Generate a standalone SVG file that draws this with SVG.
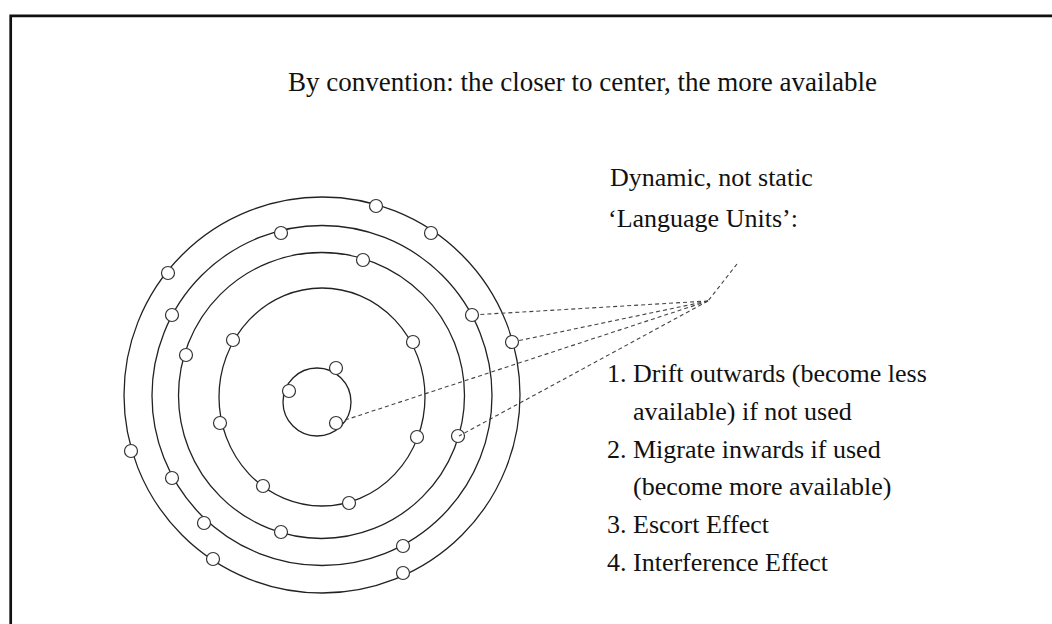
<svg xmlns="http://www.w3.org/2000/svg" width="1052" height="624" viewBox="0 0 1052 624">
  <style>
    .txt { font-family: "Liberation Serif", "Times New Roman", serif; fill: #111; }
    .title { font-size: 27px; }
    .body { font-size: 26px; }
    .ring { fill: none; stroke: #222; stroke-width: 1.3; }
    .unit { fill: #fff; stroke: #333; stroke-width: 1.2; }
    .link { fill: none; stroke: #444; stroke-width: 1.1; stroke-dasharray: 4 3; }
  </style>
  <rect width="1052" height="624" fill="#fff"/>

  <!-- frame: left and top edges only -->
  <path d="M10.7 624 V15.8 H1052" fill="none" stroke="#111" stroke-width="2.7"/>

  <text class="txt title" x="288" y="91">By convention: the closer to center, the more available</text>

  <!-- orbits, outermost first, each with its language units -->
  <g id="orbit-1">
    <circle class="ring" cx="322" cy="395" r="198"/>
    <circle class="unit" cx="376" cy="206" r="6.5"/>
    <circle class="unit" cx="431" cy="233" r="6.5"/>
    <circle class="unit" cx="168" cy="273" r="6.5"/>
    <circle class="unit" cx="512" cy="342" r="6.5"/>
    <circle class="unit" cx="131" cy="451" r="6.5"/>
    <circle class="unit" cx="213" cy="559" r="6.5"/>
    <circle class="unit" cx="403" cy="573" r="6.5"/>
  </g>
  <g id="orbit-2">
    <circle class="ring" cx="322" cy="395.5" r="170"/>
    <circle class="unit" cx="281" cy="233" r="6.5"/>
    <circle class="unit" cx="172" cy="315" r="6.5"/>
    <circle class="unit" cx="472" cy="315" r="6.5"/>
    <circle class="unit" cx="172" cy="478" r="6.5"/>
    <circle class="unit" cx="204" cy="523" r="6.5"/>
    <circle class="unit" cx="403" cy="546" r="6.5"/>
  </g>
  <g id="orbit-3">
    <circle class="ring" cx="321.5" cy="395.5" r="143"/>
    <circle class="unit" cx="363" cy="260" r="6.5"/>
    <circle class="unit" cx="186" cy="355" r="6.5"/>
    <circle class="unit" cx="458" cy="436" r="6.5"/>
    <circle class="unit" cx="281" cy="532" r="6.5"/>
  </g>
  <g id="orbit-4">
    <ellipse class="ring" cx="322" cy="397" rx="103" ry="109"/>
    <circle class="unit" cx="233" cy="340" r="6.5"/>
    <circle class="unit" cx="413" cy="342" r="6.5"/>
    <circle class="unit" cx="220" cy="423" r="6.5"/>
    <circle class="unit" cx="417" cy="437" r="6.5"/>
    <circle class="unit" cx="263" cy="486" r="6.5"/>
    <circle class="unit" cx="349" cy="503" r="6.5"/>
  </g>
  <g id="core">
    <circle class="ring" cx="317" cy="402" r="34"/>
    <circle class="unit" cx="289" cy="391" r="6.5"/>
    <circle class="unit" cx="336" cy="368" r="6.5"/>
    <circle class="unit" cx="336" cy="423" r="6.5"/>
  </g>

  <!-- dashed pointers from the label to sample units -->
  <g id="connectors">
    <line class="link" x1="737" y1="264" x2="708" y2="301"/>
    <line class="link" x1="708" y1="301" x2="478.5" y2="314.6"/>
    <line class="link" x1="708" y1="301" x2="518.4" y2="340.7"/>
    <line class="link" x1="708" y1="301" x2="342.2" y2="421"/>
    <line class="link" x1="708" y1="301" x2="459" y2="436"/>
  </g>

  <g id="label">
    <text class="txt body" x="610" y="186">Dynamic, not static</text>
    <text class="txt body" x="608" y="227">‘Language Units’:</text>
  </g>

  <g id="rules">
    <text class="txt body" x="607" y="382">1.</text>
    <text class="txt body" x="633" y="382">Drift outwards (become less</text>
    <text class="txt body" x="633" y="419.8">available) if not used</text>
    <text class="txt body" x="607" y="457.6">2.</text>
    <text class="txt body" x="633" y="457.6">Migrate inwards if used</text>
    <text class="txt body" x="633" y="495.4">(become more available)</text>
    <text class="txt body" x="607" y="533.2">3.</text>
    <text class="txt body" x="633" y="533.2">Escort Effect</text>
    <text class="txt body" x="607" y="571">4.</text>
    <text class="txt body" x="633" y="571">Interference Effect</text>
  </g>
</svg>
